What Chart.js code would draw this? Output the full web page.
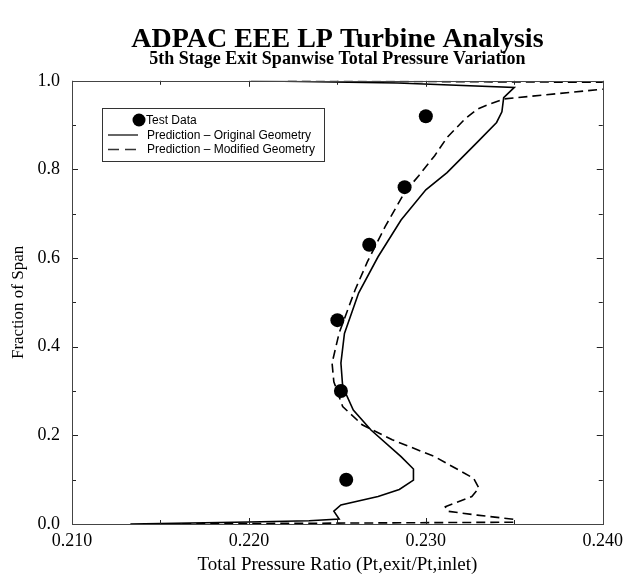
<!DOCTYPE html>
<html>
<head>
<meta charset="utf-8">
<title>ADPAC EEE LP Turbine Analysis</title>
<script src="https://cdn.jsdelivr.net/npm/chart.js@4.4.1/dist/chart.umd.min.js"></script>
<style>
  html, body { margin: 0; padding: 0; background: #fff; }
  #wrap { width: 629px; height: 578px; }
</style>
</head>
<body>
<div id="wrap"><canvas id="c" width="629" height="578"></canvas></div>
<script>
'use strict';

// Test data points
const testX = [0.2300, 0.2288, 0.2268, 0.2250, 0.2252, 0.2255];
const testY = [0.92, 0.76, 0.63, 0.46, 0.30, 0.10];

// Prediction - original geometry (traced tip to hub)
const origX = [0.2201, 0.2284, 0.2350, 0.2344, 0.2343, 0.2340, 0.2329, 0.2312, 0.2300, 0.2286,
               0.2273, 0.2262, 0.2254, 0.2252, 0.2253, 0.2259, 0.2269, 0.2286, 0.2293, 0.2293,
               0.2285, 0.2273, 0.2252, 0.2248, 0.2251, 0.2234, 0.2200, 0.2133];
const origY = [1.000, 0.995, 0.985, 0.962, 0.930, 0.906, 0.861, 0.793, 0.754, 0.686,
               0.603, 0.521, 0.430, 0.363, 0.310, 0.257, 0.212, 0.152, 0.124, 0.099,
               0.078, 0.062, 0.043, 0.029, 0.011, 0.0075, 0.0045, 0.000];

// Prediction - modified geometry
const modX = [0.2222, 0.2320, 0.2400, 0.2408, 0.2400, 0.2344, 0.2335, 0.2329, 0.2322, 0.2312,
              0.2305, 0.2296, 0.2288, 0.2277, 0.2267, 0.2260, 0.2251, 0.2247, 0.2248, 0.2253,
              0.2264, 0.2281, 0.2305, 0.2327, 0.2330, 0.2326, 0.2311, 0.2312, 0.2329, 0.2350,
              0.2350, 0.2150];
const modY = [1.000, 0.998, 0.9966, 0.993, 0.981, 0.959, 0.946, 0.936, 0.9135, 0.872,
              0.831, 0.786, 0.748, 0.671, 0.592, 0.528, 0.431, 0.363, 0.321, 0.265,
              0.224, 0.190, 0.152, 0.103, 0.081, 0.062, 0.039, 0.029, 0.020, 0.0106,
              0.004, 0.000];

const legendLabels = ['Test Data', 'Prediction \u2013 Original Geometry', 'Prediction \u2013 Modified Geometry'];

const xy = (xs, ys) => xs.map((v, i) => ({ x: v, y: ys[i] }));
const SERIF = '"Liberation Serif", "Times New Roman", Times, serif';
const SANS  = '"Liberation Sans", Arial, Helvetica, sans-serif';

// frame + inward ticks on all four sides
const frameTicks = {
  id: 'frameTicks',
  afterDatasetsDraw(chart) {
    const { ctx, chartArea: a, scales: { x, y } } = chart;
    ctx.save();
    ctx.strokeStyle = '#222';
    ctx.lineWidth = 1;
    ctx.beginPath();
    x.ticks.forEach(t => {
      const px = Math.round(x.getPixelForValue(t.value)) + 0.5;
      const len = t.label ? 6 : 4;
      ctx.moveTo(px, a.bottom); ctx.lineTo(px, a.bottom - len);
      ctx.moveTo(px, a.top);    ctx.lineTo(px, a.top + len);
    });
    y.ticks.forEach(t => {
      const py = Math.round(y.getPixelForValue(t.value)) + 0.5;
      const len = t.label ? 6 : 4;
      ctx.moveTo(a.left, py);  ctx.lineTo(a.left + len, py);
      ctx.moveTo(a.right, py); ctx.lineTo(a.right - len, py);
    });
    ctx.stroke();
    ctx.strokeStyle = '#444';
    ctx.strokeRect(Math.round(a.left) + 0.5, Math.round(a.top) + 0.5,
                   Math.round(a.right - a.left), Math.round(a.bottom - a.top));
    ctx.restore();
  }
};

// boxed legend inside the plot, top left
const boxLegend = {
  id: 'boxLegend',
  afterDraw(chart) {
    const ctx = chart.ctx;
    ctx.save();
    ctx.strokeStyle = '#333';
    ctx.lineWidth = 1;
    ctx.strokeRect(102.5, 108.5, 222, 53);
    ctx.fillStyle = '#000';
    ctx.beginPath();
    ctx.arc(139, 120, 6.5, 0, Math.PI * 2);
    ctx.fill();
    ctx.lineWidth = 1.5;
    ctx.beginPath();
    ctx.moveTo(108, 135); ctx.lineTo(138, 135);
    ctx.stroke();
    ctx.setLineDash([11, 6]);
    ctx.beginPath();
    ctx.moveTo(108, 149.5); ctx.lineTo(138, 149.5);
    ctx.stroke();
    ctx.setLineDash([]);
    ctx.font = '12px ' + SANS;
    ctx.textBaseline = 'middle';
    ctx.textAlign = 'left';
    ctx.fillText(legendLabels[0], 146, 120.5);
    ctx.fillText(legendLabels[1], 147, 135.5);
    ctx.fillText(legendLabels[2], 147, 150);
    ctx.restore();
  }
};

new Chart(document.getElementById('c').getContext('2d'), {
  type: 'scatter',
  data: {
    datasets: [
      { label: legendLabels[0], data: xy(testX, testY), showLine: false,
        pointRadius: 7, pointHoverRadius: 7, backgroundColor: '#000', borderColor: '#000', borderWidth: 0 },
      { label: legendLabels[1], data: xy(origX, origY), showLine: true, pointRadius: 0,
        borderColor: '#000', borderWidth: 1.6, tension: 0, fill: false },
      { label: legendLabels[2], data: xy(modX, modY), showLine: true, pointRadius: 0,
        borderColor: '#000', borderWidth: 1.6, borderDash: [9, 5], tension: 0, fill: false }
    ]
  },
  options: {
    responsive: false,
    animation: false,
    layout: { padding: { left: 0, right: 23, top: 0, bottom: 0 } },
    plugins: {
      legend: { display: false },
      tooltip: { enabled: false },
      title: {
        display: true, fullSize: false, color: '#000',
        text: 'ADPAC EEE LP Turbine Analysis',
        font: { family: SERIF, size: 28, weight: 'bold', lineHeight: 0.8 },
        padding: { top: 29, bottom: 0 }
      },
      subtitle: {
        display: true, fullSize: false, color: '#000',
        text: '5th Stage Exit Spanwise Total Pressure Variation',
        font: { family: SERIF, size: 18, weight: 'bold', lineHeight: 0.8 },
        padding: { top: 1, bottom: 14 }
      }
    },
    scales: {
      x: {
        type: 'linear', min: 0.21, max: 0.24,
        grid: { display: false, drawTicks: false },
        border: { display: false },
        afterFit: s => { s.height = 54; },
        ticks: {
          stepSize: 0.005, autoSkip: false, maxRotation: 0, padding: 6, color: '#000',
          font: { family: SERIF, size: 18 },
          callback: v => (Math.round(v * 1000) % 10 === 0 ? v.toFixed(3) : '')
        },
        title: {
          display: true, text: 'Total Pressure Ratio (Pt,exit/Pt,inlet)', color: '#000',
          font: { family: SERIF, size: 19 }, padding: { top: 0, bottom: 2 }
        }
      },
      y: {
        type: 'linear', min: 0, max: 1,
        grid: { display: false, drawTicks: false },
        border: { display: false },
        afterFit: s => { s.width = 72; },
        ticks: {
          stepSize: 0.1, autoSkip: false, padding: 12, color: '#000',
          font: { family: SERIF, size: 18 },
          callback: v => (Math.round(v * 10) % 2 === 0 ? v.toFixed(1) : '')
        },
        title: {
          display: true, text: 'Fraction of Span', color: '#000',
          font: { family: SERIF, size: 17 }, padding: { top: 8, bottom: 0 }
        }
      }
    }
  },
  plugins: [frameTicks, boxLegend]
});
</script>
</body>
</html>
